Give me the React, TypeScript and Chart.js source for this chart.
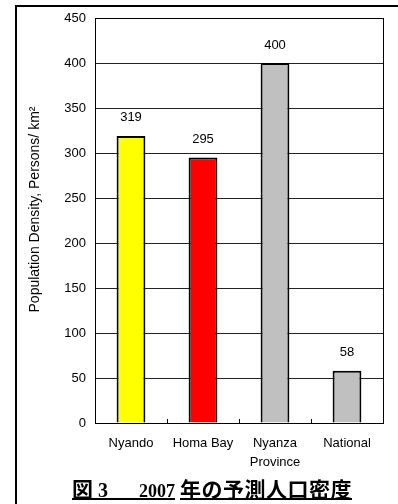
import React, { useEffect, useRef } from "react";
import { Chart, registerables } from "chart.js";

Chart.register(...registerables);

const categories: (string | string[])[] = ["Nyando", "Homa Bay", ["Nyanza", "Province"], "National"];
const densities: number[] = [319, 295, 400, 58];
const barColors: string[] = ["#FFFF00", "#FF0000", "#C0C0C0", "#C0C0C0"];
const yTitle = "Population Density, Persons/ km²";
const yMin = 0;
const yMax = 450;
const yStep = 50;

const FONT = "'Liberation Sans', Arial, sans-serif";

const plotDecor = {
  id: "plotDecor",
  afterDatasetsDraw(chart: any) {
    const { ctx, chartArea } = chart;
    const x = chart.scales.x;
    ctx.save();
    // plot frame
    ctx.strokeStyle = "#000";
    ctx.lineWidth = 1;
    ctx.strokeRect(Math.round(chartArea.left) + 0.5, Math.round(chartArea.top) + 0.5,
      Math.round(chartArea.right - chartArea.left), Math.round(chartArea.bottom - chartArea.top));
    // inward ticks between categories
    const n = categories.length;
    for (let i = 1; i < n; i++) {
      const px = (x.getPixelForValue(i - 1) + x.getPixelForValue(i)) / 2;
      ctx.beginPath();
      ctx.moveTo(Math.round(px) + 0.5, chartArea.bottom);
      ctx.lineTo(Math.round(px) + 0.5, chartArea.bottom - 4);
      ctx.stroke();
    }
    // value labels
    const meta = chart.getDatasetMeta(0);
    ctx.fillStyle = "#000";
    ctx.font = `13px ${FONT}`;
    ctx.textAlign = "center";
    ctx.textBaseline = "middle";
    meta.data.forEach((bar: any, i: number) => {
      ctx.fillText(String(densities[i]), bar.x, bar.y - 18);
    });
    // y-axis title
    ctx.translate(35, (chartArea.top + chartArea.bottom) / 2 - 11);
    ctx.rotate(-Math.PI / 2);
    ctx.font = `14px ${FONT}`;
    ctx.fillText(yTitle, 0, 0);
    ctx.restore();
  },
};

export default function App() {
  const ref = useRef<HTMLCanvasElement | null>(null);
  useEffect(() => {
    if (!ref.current) return;
    const chart = new Chart(ref.current, {
      type: "bar",
      data: {
        labels: categories,
        datasets: [
          {
            data: densities,
            backgroundColor: barColors,
            borderColor: "#000",
            borderWidth: 2,
            barPercentage: 0.4,
            categoryPercentage: 1,
          },
        ],
      },
      options: {
        animation: false,
        responsive: false,
        maintainAspectRatio: false,
        devicePixelRatio: 1,
        layout: { padding: { left: 0, top: 18, right: 15, bottom: 0 } },
        plugins: { legend: { display: false }, tooltip: { enabled: false } },
        scales: {
          x: {
            grid: { display: false },
            border: { display: true, color: "#000", width: 1 },
            ticks: {
              color: "#000",
              font: { family: FONT, size: 13, lineHeight: 1.45 },
              padding: 3,
              maxRotation: 0,
              autoSkip: false,
            },
            afterFit: (s: any) => {
              s.height = 81;
            },
          },
          y: {
            min: yMin,
            max: yMax,
            ticks: {
              stepSize: yStep,
              color: "#000",
              font: { family: FONT, size: 13 },
              padding: 9,
            },
            grid: { color: "#222", lineWidth: 1, drawTicks: false },
            border: { display: true, color: "#000", width: 1 },
            title: { display: false },
            afterFit: (s: any) => {
              s.width = 95;
            },
          },
        },
      },
      plugins: [plotDecor],
    });
    return () => chart.destroy();
  }, []);

  return (
    <div style={{ position: "fixed", left: 0, top: 0, width: 398, height: 504, background: "#fff", overflow: "hidden" }}>
      <div
        style={{
          position: "absolute",
          left: 15,
          top: 5,
          width: 400,
          height: 520,
          borderLeft: "2px solid #000",
          borderTop: "2px solid #000",
          boxSizing: "border-box",
        }}
      />
      <canvas ref={ref} width={398} height={504} style={{ position: "absolute", left: 0, top: 0, width: 398, height: 504 }} />
      <div
        style={{
          position: "absolute",
          left: 72,
          top: 476,
          whiteSpace: "nowrap",
          fontWeight: "bold",
          fontFamily: "'Liberation Serif', 'Noto Sans CJK JP', serif",
          fontSize: 20,
          lineHeight: "24px",
          textDecoration: "underline",
          textDecorationThickness: "2px",
          textUnderlineOffset: "1px",
          color: "#000",
        }}
      >
        <span style={{ fontFamily: "'Noto Sans CJK JP'", fontSize: 21 }}>図</span>
        <span> 3{"\u00a0\u00a0"}</span>
        <span style={{ fontFamily: "'Noto Sans CJK JP'", fontSize: 21 }}>{"\u3000"}</span>
        <span style={{ fontSize: 18 }}>2007</span>
        <span style={{ fontFamily: "'Noto Sans CJK JP'", fontSize: 21, marginLeft: 5, letterSpacing: 0.5 }}>年の予測人口密度</span>
      </div>
    </div>
  );
}
